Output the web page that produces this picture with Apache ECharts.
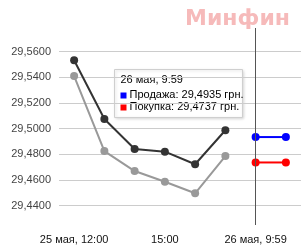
<!DOCTYPE html>
<html><head><meta charset="utf-8">
<script src="https://cdn.jsdelivr.net/npm/echarts@6/dist/echarts.min.js"></script>
<style>html,body{margin:0;padding:0;background:#fff}#c{width:306px;height:251px}</style>
</head><body><div id="c"></div>
<script>
var categories = ['25 мая, 12:00','13:00','14:00','15:00','16:00','17:00','26 мая, 9:59','10:00'];
var sellHistory = [29.5533, 29.5076, 29.4842, 29.4821, 29.4723, 29.4988, '-', '-'];
var buyHistory  = [29.5410, 29.4826, 29.4670, 29.4587, 29.4497, 29.4787, '-', '-'];
var sellNow = ['-', '-', '-', '-', '-', '-', 29.4935, 29.4935];
var buyNow  = ['-', '-', '-', '-', '-', '-', 29.4737, 29.4737];
var yTicks = [29.44, 29.46, 29.48, 29.50, 29.52, 29.54, 29.56];
var tipTitle = '26 мая, 9:59';
var sellName = 'Продажа', buyName = 'Покупка';

function fmt(v){ return v.toFixed(4).replace('.', ','); }
var font = 'Arial, "Liberation Sans", sans-serif';
var chart = echarts.init(document.getElementById('c'));
chart.setOption({
  animation: false,
  title: { text: 'Минфин', right: 16, top: 8, padding: 0, textStyle: { fontSize: 22, fontWeight: 'bold', color: '#f6baba', fontFamily: '"DejaVu Sans", sans-serif' } },
  grid: { left: 59, right: 5, top: 28, bottom: 26 },
  xAxis: {
    type: 'category', data: categories, boundaryGap: true,
    axisLine: { show: false }, axisTick: { show: false },
    axisLabel: { interval: function(i){ return i % 3 === 0; }, margin: 9, color: '#111', fontSize: 11, fontFamily: font }
  },
  yAxis: {
    type: 'value', min: 29.42496, max: 29.5785,
    axisLine: { show: false },
    axisTick: { show: false, customValues: yTicks },
    axisLabel: { customValues: yTicks, formatter: fmt, margin: 8, color: '#444', fontSize: 11, fontFamily: font },
    splitLine: { show: true, lineStyle: { color: '#cccccc', width: 1 } }
  },
  series: [
    { name: sellName, type: 'line', data: sellHistory, symbol: 'circle', symbolSize: 8, itemStyle: { color: '#333' }, lineStyle: { color: '#333', width: 2 }, z: 3 },
    { name: buyName, type: 'line', data: buyHistory, symbol: 'circle', symbolSize: 8, itemStyle: { color: '#999' }, lineStyle: { color: '#999', width: 2 }, z: 2 },
    { name: sellName, type: 'line', data: sellNow, symbol: 'circle', symbolSize: 8, itemStyle: { color: '#0000ff' }, lineStyle: { color: '#0000ff', width: 2 }, z: 4,
      markLine: { silent: true, symbol: 'none', label: { show: false }, lineStyle: { color: '#555', width: 1, type: 'solid' }, data: [{ xAxis: 6 }] } },
    { name: buyName, type: 'line', data: buyNow, symbol: 'circle', symbolSize: 8, itemStyle: { color: '#ff0000' }, lineStyle: { color: '#ff0000', width: 2 }, z: 4 }
  ],
  graphic: [{
    type: 'group', left: 114, top: 69, z: 100,
    children: [
      { type: 'rect', shape: { x: 0, y: 0, width: 128, height: 48 }, style: { fill: '#fff', stroke: '#cfcfcf', lineWidth: 1, shadowBlur: 3, shadowOffsetX: 1, shadowOffsetY: 1, shadowColor: 'rgba(0,0,0,0.15)' } },
      { type: 'text', x: 6, y: 5, style: { text: tipTitle, fontSize: 11, fill: '#000', font: '11px ' + font } },
      { type: 'rect', shape: { x: 6, y: 23, width: 6, height: 6 }, style: { fill: '#0000ff' } },
      { type: 'text', x: 15, y: 20, style: { text: sellName + ': ' + fmt(sellNow[6]) + ' грн.', fill: '#000', font: '11px ' + font } },
      { type: 'rect', shape: { x: 6, y: 35, width: 6, height: 6 }, style: { fill: '#ff0000' } },
      { type: 'text', x: 15, y: 32, style: { text: buyName + ': ' + fmt(buyNow[6]) + ' грн.', fill: '#000', font: '11px ' + font } }
    ]
  }]
});
</script></body></html>
